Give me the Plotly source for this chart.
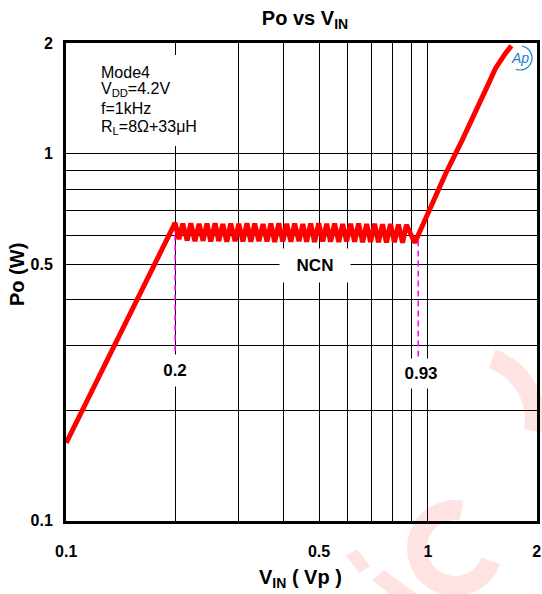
import numpy as np
import plotly.graph_objects as go

# ---------------- data ----------------
start_v = [0.1]
start_p = [0.163]

peak_v = [0.200, 0.210, 0.221, 0.233, 0.245, 0.258, 0.271, 0.285, 0.300, 0.316,
          0.332, 0.350, 0.368, 0.387, 0.407, 0.428, 0.451, 0.474, 0.499, 0.525,
          0.552, 0.581, 0.611, 0.643, 0.677, 0.712, 0.749, 0.788, 0.829, 0.872]
peak_p = [0.648, 0.645, 0.646, 0.644, 0.645, 0.646, 0.643, 0.645, 0.644, 0.646,
          0.645, 0.643, 0.645, 0.646, 0.644, 0.645, 0.643, 0.645, 0.646, 0.644,
          0.645, 0.643, 0.644, 0.645, 0.643, 0.644, 0.642, 0.643, 0.641, 0.640]
trough_v = [0.205, 0.216, 0.227, 0.239, 0.251, 0.264, 0.278, 0.293, 0.308, 0.324,
            0.341, 0.359, 0.377, 0.397, 0.418, 0.440, 0.462, 0.486, 0.512, 0.538,
            0.567, 0.596, 0.627, 0.660, 0.694, 0.730, 0.768, 0.808, 0.851, 0.920]
trough_p = [0.585, 0.580, 0.578, 0.579, 0.577, 0.578, 0.576, 0.578, 0.577, 0.576,
            0.578, 0.577, 0.575, 0.577, 0.576, 0.578, 0.576, 0.575, 0.577, 0.576,
            0.575, 0.577, 0.576, 0.574, 0.575, 0.574, 0.573, 0.574, 0.572, 0.572]

rise_v = [1.006, 1.119, 1.243, 1.297, 1.382, 1.472, 1.537, 1.586, 1.637, 1.701]
rise_p = [0.701, 0.882, 1.087, 1.184, 1.356, 1.554, 1.707, 1.798, 1.875, 1.968]

mark_low_v = 0.2          # start of NCN region
mark_high_v = 0.94        # end of NCN region (labelled 0.93)
mark_low_label = "0.2"
mark_high_label = "0.93"
mark_low_p = [0.640, 0.282]
mark_high_p = [0.580, 0.277]

x_ticks = [0.1, 0.5, 1, 2]
x_tick_text = ["0.1", "0.5", "1", "2"]
y_ticks = [0.1, 0.5, 1, 2]
y_tick_text = ["0.1", "0.5", "1", "2"]
grid_minor = [0.2, 0.3, 0.4, 0.6, 0.7, 0.8, 0.9]

info_lines = ["Mode4", "V<sub>DD</sub>=4.2V", "f=1kHz", "R<sub>L</sub>=8Ω+33μH"]

# ---------------- build curve ----------------
curve_v = list(start_v)
curve_p = list(start_p)
for pv, pp, tv, tp in zip(peak_v, peak_p, trough_v, trough_p):
    curve_v += [pv, tv]
    curve_p += [pp, tp]
curve_v += rise_v
curve_p += rise_p

W, H = 542, 594
ML, MR, MT, MB = 66, 5, 43, 73
PW, PH = W - ML - MR, H - MT - MB


def px(xp):
    return (xp - ML) / PW


def py(yp):
    return (H - MB - yp) / PH


def lx(xp):
    return (xp - ML) / 363.0 - 1


def ly(yp):
    return (H - MB - yp) / 367.4 - 1


FONT = "Liberation Sans, Arial, sans-serif"

fig = go.Figure()

fig.add_trace(go.Scatter(x=[mark_low_v, mark_low_v], y=mark_low_p, mode="lines",
                         line=dict(color="#ff00ff", width=1.5, dash="6px,4px"),
                         hoverinfo="skip", showlegend=False))
fig.add_trace(go.Scatter(x=[mark_high_v, mark_high_v], y=mark_high_p, mode="lines",
                         line=dict(color="#ff00ff", width=1.5, dash="6px,4px"),
                         hoverinfo="skip", showlegend=False))
fig.add_trace(go.Scatter(x=curve_v, y=curve_p, mode="lines",
                         line=dict(color="#ff0000", width=5),
                         showlegend=False))

axis_common = dict(
    type="log", automargin=False,
    showline=True, linecolor="black", linewidth=3, mirror=True,
    showgrid=True, gridcolor="black", gridwidth=1.4,
    zeroline=False, ticks="",
    tickfont=dict(family=FONT, size=16, color="black"),
    minor=dict(tickmode="array", tickvals=grid_minor, showgrid=True,
               gridcolor="black", gridwidth=1.4, ticks=""),
)

fig.update_xaxes(**axis_common, range=[-1.0005, np.log10(2) + 0.0005],
                 tickmode="array", tickvals=x_ticks,
                 ticktext=["<b>%s</b>" % t for t in x_tick_text],
                 ticklabelstandoff=14)
fig.update_yaxes(**axis_common, range=[-1.0005, np.log10(2) + 0.0005],
                 tickmode="array", tickvals=y_ticks,
                 ticktext=["<b>%s</b>" % t for t in y_tick_text],
                 ticklabelstandoff=7)

C = dict(xanchor="center", yanchor="middle", showarrow=False)
ann = []
# info box lines
for line_text, yy in zip(info_lines, [72, 90, 109, 127]):
    ann.append(dict(xref="paper", yref="paper", x=px(99), y=py(yy),
                    text=line_text, xanchor="left", yanchor="middle", showarrow=False,
                    font=dict(family=FONT, size=16, color="black")))
# NCN label
ann.append(dict(xref="x", yref="y", x=lx(316), y=ly(265),
                text="<b>NCN</b>", width=70, height=33,
                bgcolor="white", borderpad=0,
                font=dict(family=FONT, size=17, color="black"), **C))
# markers
ann.append(dict(xref="x", yref="y", x=np.log10(mark_low_v), y=ly(371),
                text="<b>%s</b>" % mark_low_label, width=34, height=31,
                bgcolor="white", borderpad=0,
                font=dict(family=FONT, size=17, color="black"), **C))
ann.append(dict(xref="x", yref="y", x=lx(422), y=ly(374),
                text="<b>%s</b>" % mark_high_label, width=42, height=29,
                bgcolor="white", borderpad=0,
                font=dict(family=FONT, size=17, color="black"), **C))
# axis titles
ann.append(dict(xref="paper", yref="paper", x=px(300), y=py(578),
                text="<b>V<sub>IN</sub> ( Vp )</b>",
                font=dict(family=FONT, size=20, color="black"), **C))
ann.append(dict(xref="paper", yref="paper", x=px(17), y=py(275),
                text="<b>Po (W)</b>", textangle=-90,
                font=dict(family=FONT, size=20, color="black"), **C))
# logo
ann.append(dict(xref="paper", yref="paper", x=px(520), y=py(58),
                text="<i>Ap</i>",
                font=dict(family=FONT, size=14, color="#1f7ec4"), **C))
fig.update_layout(annotations=ann)

shapes = []


def path_from(points, close=True):
    s = "M %f %f" % (px(points[0][0]), py(points[0][1]))
    for a, b in points[1:]:
        s += " L %f %f" % (px(a), py(b))
    return s + (" Z" if close else "")


# white backing box of the info text
shapes.append(dict(type="rect", xref="paper", yref="paper", layer="above",
                   x0=px(92), x1=px(232), y0=py(146), y1=py(55),
                   fillcolor="white", line=dict(width=0)))
# logo ring
ang_l = np.linspace(np.deg2rad(-80), np.deg2rad(110), 30)
shapes.append(dict(type="path", xref="paper", yref="paper", layer="above",
                   path=path_from([(520 + 12 * np.cos(a), 58 + 12 * np.sin(a)) for a in ang_l], close=False),
                   line=dict(color="#1f7ec4", width=1.2)))

# faint watermark (decorative)
wm = "rgba(255,60,60,0.14)"
shapes.append(dict(type="path", xref="paper", yref="paper", layer="below",
                   path=path_from([(346, 556), (357, 549), (370, 566), (359, 573)]),
                   fillcolor=wm, line=dict(width=0)))
shapes.append(dict(type="path", xref="paper", yref="paper", layer="below",
                   path=path_from([(372, 580), (384, 570), (425, 600), (410, 610)]),
                   fillcolor=wm, line=dict(width=0)))
ang = np.linspace(np.deg2rad(20), np.deg2rad(280), 40)
cx, cy, ro, ri = 455, 548, 48, 28
outer = [(cx + ro * np.cos(a), cy + ro * np.sin(a)) for a in ang]
inner = [(cx + ri * np.cos(a), cy + ri * np.sin(a)) for a in ang[::-1]]
shapes.append(dict(type="path", xref="paper", yref="paper", layer="below",
                   path=path_from(outer + inner), fillcolor=wm, line=dict(width=0)))
ang2 = np.linspace(np.deg2rad(-70), np.deg2rad(10), 30)
cx2, cy2, ro2, ri2 = 470, 420, 75, 55
outer2 = [(cx2 + ro2 * np.cos(a), cy2 + ro2 * np.sin(a)) for a in ang2]
inner2 = [(cx2 + ri2 * np.cos(a), cy2 + ri2 * np.sin(a)) for a in ang2[::-1]]
shapes.append(dict(type="path", xref="paper", yref="paper", layer="below",
                   path=path_from(outer2 + inner2), fillcolor=wm, line=dict(width=0)))

fig.update_layout(
    width=W, height=H,
    margin=dict(l=ML, r=MR, t=MT, b=MB, autoexpand=False),
    paper_bgcolor="white", plot_bgcolor="rgba(0,0,0,0)",
    font=dict(family=FONT, color="black"),
    title=dict(text="<b>Po vs V<sub>IN</sub></b>", x=px(305), xref="paper", xanchor="center",
               y=1 - 18 / H, yref="container", yanchor="middle",
               font=dict(family=FONT, size=20, color="black")),
    shapes=shapes,
    showlegend=False,
)

fig.write_html("out.html", config={"displayModeBar": False},
               post_script="document.body.style.margin='0px';document.body.style.overflow='hidden';")
